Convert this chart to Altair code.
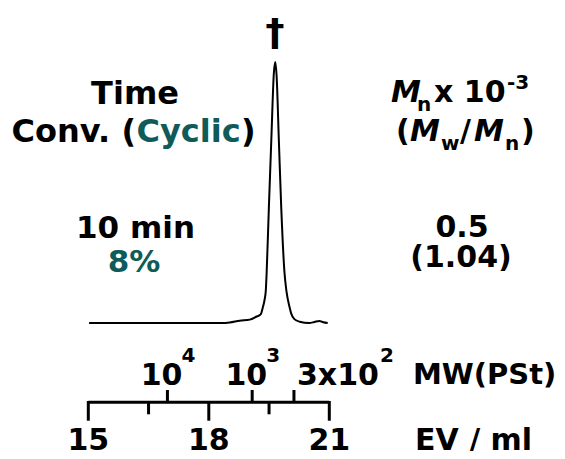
import altair as alt
import pandas as pd

# ---- data ----
ev = [15.02, 16.54, 18.32, 18.52, 18.77, 19.02, 19.18, 19.29, 19.347, 19.39, 19.42, 19.44,
      19.496, 19.556, 19.62, 19.655, 19.687, 19.744, 19.803, 19.885, 19.935, 20.01, 20.05,
      20.13, 20.26, 20.50, 20.63, 20.75, 20.85, 20.96]
signal = [0, 0, 0, 0.2, 0.9, 1.3, 2.4, 3.3, 6.1, 9.0, 12.6, 19.2,
          44.4, 70, 95.8, 100, 95, 70, 44.4, 19.2, 12.0, 6.1, 3.7,
          1.5, 0.5, 0.0, 0.4, 0.8, 0.3, 0.0]

ev_major = [15, 18, 21]
ev_major_labels = ["15", "18", "21"]
ev_minor = [16.5, 19.5]
ev_axis_start = [15]
ev_axis_end = [21]
mw_ev = [16.97, 19.08, 20.12]
mw_base = ["10", "10", "3x10"]
mw_exp = ["4", "3", "2"]

title_mw = "MW(PSt)"
title_ev = "EV / ml"
peak_mark = "\u2020"
left_head = ["Time", "Conv. (", "Cyclic", ")"]
left_vals = ["10 min", "8%"]
right_head = ["M", "n", "x 10", "-3", "(", "M", "w", "/", "M", "n", ")"]
right_vals = ["0.5", "(1.04)"]

FONT = "DejaVu Sans"
BLACK = "#000000"
TEAL = "#0e5b59"
OFF = 8  # page margin

X = alt.Scale(domain=[15, 21], range=[88.3 - OFF, 329.3 - OFF], nice=False, zero=False)
Y = alt.Scale(domain=[0, 100], range=[323 - OFF, 62 - OFF], nice=False, zero=False)

one = pd.DataFrame({"k": [0]})


def label(text, x, y, size=30, color=BLACK, align="left", style="normal", font=FONT):
    return alt.Chart(one).mark_text(
        text=text, align=align, baseline="alphabetic", font=font, fontSize=size,
        fontWeight="bold", fontStyle=style, color=color
    ).encode(x=alt.value(x - OFF), y=alt.value(y - OFF))


trace = alt.Chart(pd.DataFrame({"ev": ev, "s": signal})).mark_line(
    color=BLACK, strokeWidth=2, interpolate="monotone"
).encode(x=alt.X("ev:Q", scale=X, axis=None), y=alt.Y("s:Q", scale=Y, axis=None))

axis_line = alt.Chart(pd.DataFrame({"a": ev_axis_start, "b": ev_axis_end})).mark_rule(
    color=BLACK, strokeWidth=3
).encode(x=alt.X("a:Q", scale=X, axis=None), x2="b:Q", y=alt.value(402.3 - OFF))

major = alt.Chart(pd.DataFrame({"ev": ev_major, "t": ev_major_labels}))
major_ticks = major.mark_rule(color=BLACK, strokeWidth=3).encode(
    x=alt.X("ev:Q", scale=X, axis=None), y=alt.value(401 - OFF), y2=alt.value(420.7 - OFF))
major_labels = major.mark_text(
    align="center", baseline="alphabetic", font=FONT, fontSize=30, fontWeight="bold", color=BLACK
).encode(x=alt.X("ev:Q", scale=X, axis=None), y=alt.value(450 - OFF), text="t:N")

minor_ticks = alt.Chart(pd.DataFrame({"ev": ev_minor})).mark_rule(color=BLACK, strokeWidth=3).encode(
    x=alt.X("ev:Q", scale=X, axis=None), y=alt.value(402 - OFF), y2=alt.value(414.3 - OFF))

mw = alt.Chart(pd.DataFrame({"ev": mw_ev, "b": mw_base, "e": mw_exp}))
mw_ticks = mw.mark_rule(color=BLACK, strokeWidth=3).encode(
    x=alt.X("ev:Q", scale=X, axis=None), y=alt.value(390 - OFF), y2=alt.value(403 - OFF))

mw_layers = []
base_dx = [15, 15, 3]
base_align = ["right", "right", "left"]
exp_dx = [14, 14, 86]
for i in range(len(mw_ev)):
    row = mw.transform_filter(alt.datum.b == mw_base[i]).transform_filter(alt.datum.e == mw_exp[i])
    mw_layers.append(row.mark_text(
        align=base_align[i], dx=base_dx[i], baseline="alphabetic", font=FONT, fontSize=30,
        fontWeight="bold", color=BLACK
    ).encode(x=alt.X("ev:Q", scale=X, axis=None), y=alt.value(385 - OFF), text="b:N"))
    mw_layers.append(row.mark_text(
        align="left", dx=exp_dx[i], baseline="alphabetic", font=FONT, fontSize=20,
        fontWeight="bold", color=BLACK
    ).encode(x=alt.X("ev:Q", scale=X, axis=None), y=alt.value(362 - OFF), text="e:N"))

texts = [
    label(peak_mark, 275, 45, size=38, align="center"),
    label(title_mw, 413, 384, size=29),
    label(title_ev, 415, 450, size=30),
    label(left_head[0], 135, 103.5, size=32, align="center"),
    label(left_head[1], 136, 141.5, size=32, align="right"),
    label(left_head[2], 136.5, 141.5, size=32, color=TEAL),
    label(left_head[3], 241, 141.5, size=32),
    label(left_vals[0], 135.5, 238.3, size=31, align="center"),
    label(left_vals[1], 134, 271.5, size=31, color=TEAL, align="center"),
    label(right_head[0], 391, 101.7, size=30, style="italic"),
    label(right_head[1], 417, 111, size=20),
    label(right_head[2], 434, 101.7, size=30),
    label(right_head[3], 507, 89, size=20),
    label(right_head[4], 396, 141, size=30),
    label(right_head[5], 410, 141, size=30, style="italic"),
    label(right_head[6], 441, 150, size=20),
    label(right_head[7], 460, 141, size=30),
    label(right_head[8], 474, 141, size=30, style="italic"),
    label(right_head[9], 505, 150, size=20),
    label(right_head[10], 521, 141, size=30),
    label(right_vals[0], 462, 236.7, size=30, align="center"),
    label(right_vals[1], 461, 266.7, size=30, align="center"),
]

chart = alt.layer(
    trace, axis_line, major_ticks, minor_ticks, mw_ticks, major_labels, *mw_layers, *texts
).properties(
    width=549, height=443, padding=0, autosize=alt.AutoSizeParams(type="none")
).configure_view(strokeWidth=0)

chart.save("out.html", embed_options={"renderer": "svg", "actions": False})
